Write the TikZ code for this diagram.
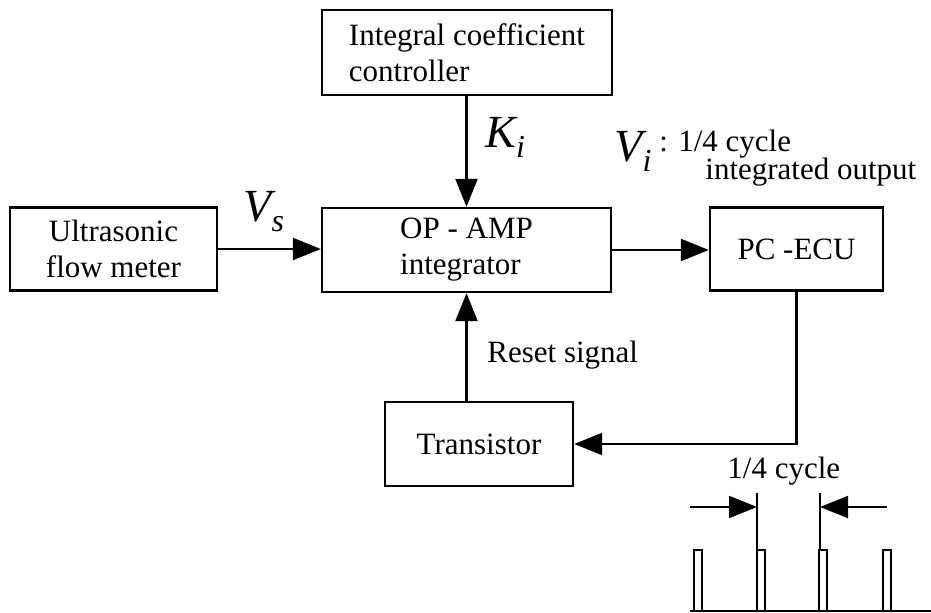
\documentclass[tikz,border=0pt]{standalone}
\usepackage{fontspec}
\setmainfont{Liberation Serif}
\usepackage{tikz}
\usetikzlibrary{arrows.meta,positioning,calc}
\tikzset{
  block/.style={draw,line width=1.2pt,align=left,inner sep=0pt,
    minimum height=41.5pt,font=\fontsize{15.5}{18}\selectfont},
  label/.style={inner sep=0pt,anchor=base west,font=\fontsize{15.5}{18}\selectfont},
  sig/.style={inner sep=0pt,anchor=base west,font=\fontsize{23}{25}\selectfont\itshape},
  flow/.style={-{Triangle[length=14pt,width=11pt]},line width=1.2pt},
  wire/.style={line width=1.2pt},
  pulse/.style={line width=1pt}
}
\newcommand{\sigsub}[2]{#1\raisebox{-5pt}{\fontsize{16}{17}\selectfont #2}}

\begin{document}
\begin{tikzpicture}[x=0.5pt,y=-0.5pt]
  \useasboundingbox (0,0) rectangle (931,613);
  % blocks
  \node[block,minimum width=103.5pt,align=center] (meter) at (113.5,249) {Ultrasonic\\flow meter};
  \node[block,minimum width=144.5pt,minimum height=42pt] (integ) at (466.5,250) {OP - AMP\\integrator};
  \node[block,minimum width=145pt,minimum height=42.5pt] (coef) at (467,52.5) {Integral coefficient\\controller};
  \node[block,minimum width=86.5pt,align=center] (ecu) at (796.5,249) {PC -ECU};
  \node[block,minimum width=94pt,minimum height=42pt,align=center] (trans) at (479,444) {Transistor};
  % signals
  \draw[flow] (meter.east) -- (meter.east -| integ.west);
  \draw[flow] (integ.north |- coef.south) -- (integ.north);
  \draw[flow] (integ.east) -- (integ.east -| ecu.west);
  \draw[flow] (trans.north -| integ.south) -- (integ.south);
  \draw[flow] (ecu.south) |- (trans.east);
  % labels
  \node[sig] (vs) at (243,222) {\sigsub{V}{s}};
  \node[sig] (ki) at (485,148) {\sigsub{K}{i}};
  \node[sig] (vi) at (614,162) {\sigsub{V}{i}};
  \node[label] (cyc) at (659,152) {: 1/4 cycle};
  \node[label] (intout) at (705,180) {integrated output};
  \node[label] (reset) at (487,363) {Reset signal};
  \node[label] (quarter) at (727,479) {1/4 cycle};
  % pulse train
  \draw[pulse] (690,611) -- (931,611);
  \foreach \x in {694,757,819,883}
    \draw[pulse] (\x,611) -- (\x,550) -- ({\x+8},550) -- ({\x+8},611);
  \coordinate (m1) at (757,493);
  \coordinate (m2) at (820,493);
  \draw[pulse] (m1) -- (757,550);
  \draw[pulse] (m2) -- (820,550);
  \coordinate (a1) at (690,507);
  \coordinate (a2) at (887,507);
  \draw[flow,line width=1pt] (a1) -- (a1 -| m1);
  \draw[flow,line width=1pt] (a2) -- (a2 -| m2);
\end{tikzpicture}
\end{document}
